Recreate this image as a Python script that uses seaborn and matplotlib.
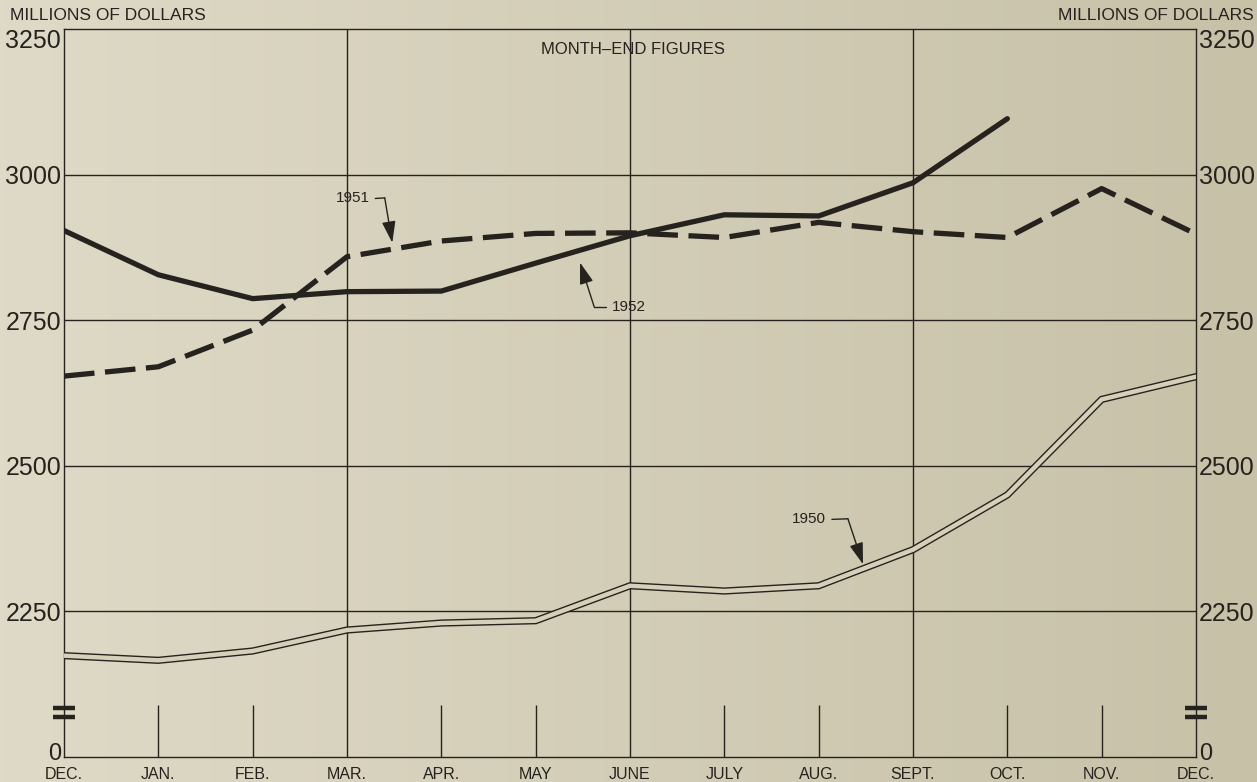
"""Month-end figures, millions of dollars, 1950-1952 (recreated chart)."""

import matplotlib.pyplot as plt
import matplotlib.transforms as mtransforms
import numpy as np
import seaborn as sns

MONTHS = ["DEC.", "JAN.", "FEB.", "MAR.", "APR.", "MAY", "JUNE",
          "JULY", "AUG.", "SEPT.", "OCT.", "NOV.", "DEC."]
VALUES_1950 = [2174, 2166, 2182, 2218, 2230, 2234, 2294, 2285, 2294, 2356, 2450, 2614, 2653]
VALUES_1951 = [2654, 2670, 2733, 2859, 2886, 2899, 2900, 2892, 2918, 2902, 2892, 2976, 2898]
VALUES_1952 = [2904, 2828, 2787, 2799, 2800, 2848, 2895, 2931, 2929, 2986, 3096]
Y_TICKS = [2000, 2250, 2500, 2750, 3000, 3250]
Y_TICK_LABELS = ["0", "2250", "2500", "2750", "3000", "3250"]
GRID_MONTHS = [3, 6, 9]

INK = "#26221d"
PAPER = "#d6d0ba"


def main() -> None:
    sns.set_theme(style="white")
    plt.rcParams["font.family"] = ["Liberation Sans", "DejaVu Sans"]

    fig = plt.figure(figsize=(12.57, 7.82), dpi=100)

    # paper background with a slight left-to-right shading
    bg = fig.add_axes([0, 0, 1, 1], zorder=-10)
    grad = np.linspace(0, 1, 256)[None, :]
    left = np.array([223, 218, 199]) / 255
    right = np.array([199, 193, 168]) / 255
    img = left[None, None, :] * (1 - grad[..., None]) + right[None, None, :] * grad[..., None]
    bg.imshow(img, aspect="auto", extent=[0, 1, 0, 1])
    bg.axis("off")

    ax = fig.add_axes([64 / 1257, 1 - 757 / 782, (1196 - 64) / 1257, (757 - 29) / 782])
    ax.set_facecolor("none")
    ax.set_xlim(0, 12)
    ax.set_ylim(2000, 3250)

    # grid: horizontal rules, three full verticals, short month ticks
    for v in Y_TICKS[1:-1]:
        ax.axhline(v, color=INK, lw=1.0, zorder=1)
    for m in GRID_MONTHS:
        ax.axvline(m, color=INK, lw=1.0, zorder=1)
    short = [i for i in range(1, 12) if i not in GRID_MONTHS]
    ax.vlines(short, 2000, 2090, color=INK, lw=1.0, zorder=1)

    x_all = np.arange(len(MONTHS))
    # 1950: double ruled line
    sns.lineplot(x=x_all, y=VALUES_1950, ax=ax, color=INK, lw=5.2, zorder=3,
                 solid_joinstyle="miter")
    sns.lineplot(x=x_all, y=VALUES_1950, ax=ax, color=PAPER, lw=3.2, zorder=4,
                 solid_joinstyle="miter")
    # 1951: heavy dashed
    sns.lineplot(x=x_all, y=VALUES_1951, ax=ax, color=INK, lw=3.8, zorder=5,
                 dashes=False, linestyle=(0, (5.8, 2.0)), dash_capstyle="butt")
    # 1952: heavy solid (through Oct.)
    sns.lineplot(x=x_all[:len(VALUES_1952)], y=VALUES_1952, ax=ax, color=INK, lw=3.8,
                 zorder=6, solid_capstyle="round")

    # axis break marks
    blend = mtransforms.blended_transform_factory(ax.transAxes, ax.transData)
    for xa in (0.0, 1.0):
        for v in (2084, 2069):
            ax.plot([xa - 0.0095, xa + 0.0095], [v, v], transform=blend, color=INK,
                    lw=3.2, solid_capstyle="butt", clip_on=False, zorder=7)

    # spines / ticks
    for s in ax.spines.values():
        s.set_color(INK)
        s.set_linewidth(1.0)
        s.set_visible(True)
    ax.set_yticks(Y_TICKS)
    ax.set_yticklabels(Y_TICK_LABELS)
    ax.set_xticks(x_all)
    ax.set_xticklabels(MONTHS)
    ax.tick_params(axis="y", length=0, pad=2, labelsize=18, labelcolor=INK,
                   left=True, right=True, labelleft=True, labelright=True)
    ax.tick_params(axis="x", length=0, pad=7, labelsize=11.5, labelcolor=INK)
    # top value hangs under the frame line; the broken-axis "0" sits a bit higher
    lift = mtransforms.ScaledTranslation(0, 4 / 72, fig.dpi_scale_trans)
    for tick in ax.yaxis.get_major_ticks():
        if tick.get_loc() == Y_TICKS[-1]:
            tick.label1.set_va("top")
            tick.label2.set_va("top")
        if tick.get_loc() == Y_TICKS[0]:
            for lab in (tick.label1, tick.label2):
                lab.set_fontsize(17)
                lab.set_transform(lab.get_transform() + lift)
    ax.grid(False)
    ax.set_xlabel("")
    ax.set_ylabel("")

    # headings
    fig.text(10 / 1257, 1 - 15 / 782, "MILLIONS OF DOLLARS", fontsize=12.5, color=INK,
             ha="left", va="center")
    fig.text(1254 / 1257, 1 - 15 / 782, "MILLIONS OF DOLLARS", fontsize=12.5, color=INK,
             ha="right", va="center")
    ax.text(6.03, 3214, "MONTH\u2013END FIGURES", fontsize=12, color=INK,
            ha="center", va="center")

    # series labels with leader arrows
    def label(text, tx, ty, side, elbow, tip):
        ha = "right" if side == "right" else "left"
        ax.text(tx, ty, text, fontsize=11, color=INK, ha=ha, va="center")
        gap = 0.06 if side == "right" else -0.06
        ax.plot([tx + gap, elbow[0]], [ty, elbow[1]], color=INK, lw=1.0, zorder=8)
        ax.annotate("", xy=tip, xytext=elbow,
                    arrowprops=dict(arrowstyle="-|>,head_length=1.1,head_width=0.35",
                                    color=INK, lw=1.0, shrinkA=0, shrinkB=0),
                    zorder=8)

    label("1951", 3.24, 2959, "right", (3.40, 2960), (3.48, 2883))
    label("1952", 5.81, 2773, "left", (5.62, 2773), (5.47, 2849))
    label("1950", 8.08, 2408, "right", (8.31, 2409), (8.47, 2331))

    fig.savefig("out.png", dpi=100)
    plt.close(fig)


if __name__ == "__main__":
    main()
